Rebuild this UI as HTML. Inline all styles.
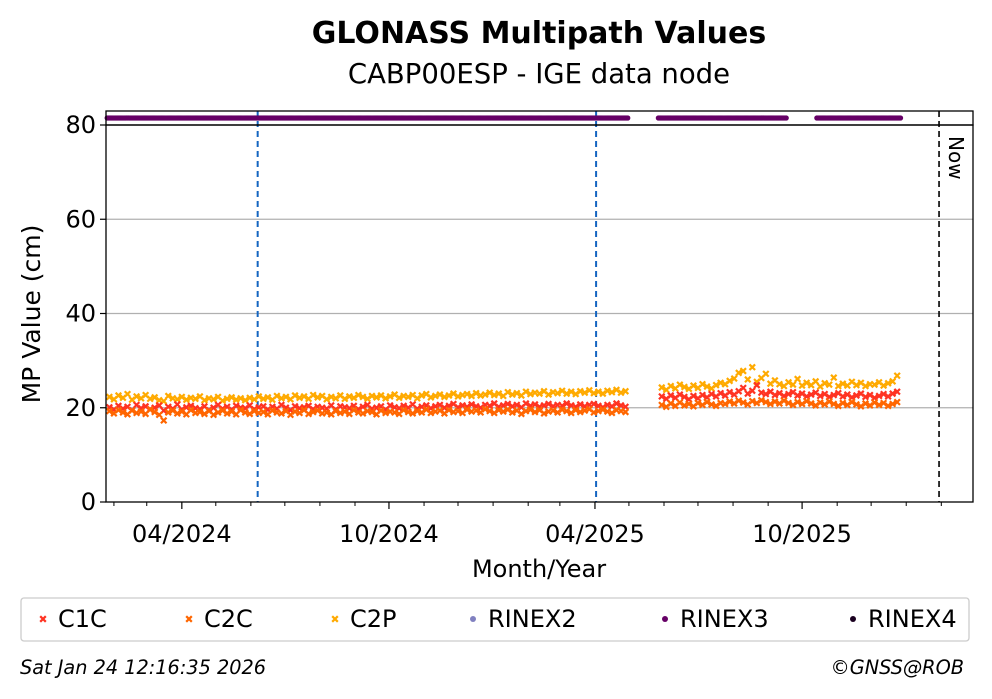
<!DOCTYPE html>
<html><head><meta charset="utf-8">
<style>
body{margin:0;background:#fff;}
svg{display:block;font-family:"DejaVu Sans","Liberation Sans",sans-serif;}
</style></head>
<body>
<svg id="chart" width="992" height="699" viewBox="0 0 992 699">
<text x="539" y="43" text-anchor="middle" font-size="30" font-weight="bold">GLONASS Multipath Values</text>
<text x="539" y="83" text-anchor="middle" font-size="27.5">CABP00ESP - IGE data node</text>
<g id="grid"></g>
<g id="marks"></g>
<rect x="106" y="111" width="867" height="14" fill="none" stroke="#000" stroke-width="1.3"/>
<rect x="106" y="125" width="867" height="377" fill="none" stroke="#000" stroke-width="1.3"/>
<g id="axes"></g>
<text transform="translate(40,314) rotate(-90)" text-anchor="middle" font-size="25">MP Value (cm)</text>
<text x="539" y="577" text-anchor="middle" font-size="24">Month/Year</text>
<text transform="translate(949,136) rotate(90)" font-size="20">Now</text>
<g>
<rect x="21" y="598" width="948" height="43" rx="3" fill="#fff" stroke="#ccc" stroke-width="1.3"/>
<g id="legend"></g>
</g>
<text x="20" y="674" font-size="19.3" font-style="italic">Sat Jan 24 12:16:35 2026</text>
<text x="964" y="674" text-anchor="end" font-size="19.3" font-style="italic">©GNSS@ROB</text>
</svg>
<script>
// days relative to 2024-04-01
const p1Start=-64, p1End=392, p2Start=424, p2End=632, step=4;
const c1cP1=[20.1,19.6,20.4,19.8,20.2,19.5,20.6,19.9,20.3,19.7,20.0,20.5,19.4,20.2,19.8,20.7,19.6,20.1,20.4,19.9,
19.7,20.3,19.5,20.0,20.6,19.8,20.2,19.6,20.4,20.0,19.9,20.5,19.7,20.1,20.3,19.6,20.2,19.8,20.6,20.0,
19.5,20.3,19.9,20.1,20.4,19.7,20.2,20.0,19.8,20.5,19.6,20.3,20.1,19.9,20.4,19.7,20.2,20.6,19.8,20.0,
20.3,19.6,20.5,20.1,19.9,20.4,20.0,20.7,19.8,20.2,20.5,19.9,20.3,20.6,20.0,20.4,20.8,20.1,20.5,20.2,
20.7,20.3,20.0,20.6,20.4,20.9,20.2,20.5,20.8,20.3,20.6,20.1,20.9,20.4,20.7,20.2,20.5,20.8,20.3,20.6,
20.4,20.9,20.5,20.2,20.7,20.3,20.6,20.8,20.4,20.1,20.6,20.3,20.9,20.5,20.2];
const c2cP1=[19.3,18.8,19.5,19.0,18.6,19.4,18.9,19.2,18.7,19.6,19.1,18.5,17.3,19.0,19.4,18.8,19.2,18.6,19.5,18.9,
19.1,18.7,19.3,18.5,19.0,19.4,18.8,19.2,18.6,19.5,19.0,18.7,19.3,18.9,19.1,18.6,19.4,19.0,18.8,19.3,
18.5,19.2,18.9,19.5,18.7,19.1,19.4,18.8,19.0,18.6,19.3,18.9,19.2,18.7,19.5,19.0,18.8,19.3,19.1,18.6,
19.4,18.9,19.2,19.0,18.7,19.5,19.1,18.8,19.3,19.0,19.6,18.9,19.2,19.4,18.8,19.5,19.1,19.3,18.9,19.6,
19.2,19.4,19.0,19.7,19.3,18.9,19.5,19.2,19.6,19.0,19.4,18.7,19.3,19.6,19.1,19.5,18.8,19.2,19.4,19.0,
19.6,19.3,18.9,19.5,19.1,19.4,19.7,19.0,19.3,19.6,19.2,18.9,19.5,19.3,19.1];
const c2pP1=[22.3,21.8,22.6,22.1,22.9,21.7,22.4,22.0,22.7,21.9,22.2,21.6,21.4,22.5,22.0,21.8,22.3,21.7,22.1,21.9,
22.4,21.6,22.0,21.8,22.3,21.5,21.9,22.2,21.7,22.0,21.6,22.1,21.8,22.4,21.9,22.2,21.7,22.5,22.0,22.3,
21.8,22.6,22.1,22.4,21.9,22.7,22.2,22.5,21.8,22.3,22.0,22.6,21.9,22.4,22.1,22.7,22.3,21.9,22.5,22.2,
22.6,22.0,22.4,22.8,22.1,22.5,22.3,22.7,22.0,22.6,22.9,22.2,22.5,22.8,22.3,22.6,23.0,22.4,22.7,22.9,
22.5,23.1,22.6,22.8,23.2,22.7,23.0,22.5,23.3,22.8,23.1,22.6,23.4,22.9,23.2,23.0,23.5,22.8,23.3,23.1,
23.6,23.0,23.4,22.9,23.5,23.2,23.7,23.1,23.4,23.0,23.6,23.3,23.8,23.2,23.5];
const c1cP2=[22.4,21.9,22.6,22.1,22.8,22.3,21.8,22.5,22.0,22.7,22.2,22.9,22.4,23.1,22.6,23.3,22.8,23.5,24.2,23.0,23.6,24.8,23.2,22.9,23.4,22.7,23.1,22.5,22.9,23.3,22.6,23.0,22.4,22.8,23.2,22.5,22.9,22.3,22.7,23.1,22.4,22.8,22.2,22.6,23.0,22.3,22.7,22.1,22.5,22.9,22.4,23.0,23.4];
const c2cP2=[20.6,20.2,20.9,20.4,21.1,20.5,20.8,20.3,21.0,20.6,21.2,20.7,20.4,21.0,20.8,21.3,20.9,21.5,21.1,20.7,21.4,21.0,21.6,21.2,20.8,21.3,20.9,21.5,21.0,20.6,21.2,20.8,21.4,20.9,20.5,21.1,20.7,21.3,20.8,20.4,21.0,20.6,21.2,20.7,20.3,20.9,20.5,21.1,20.6,21.0,20.4,20.8,21.2];
const c2pP2=[24.3,23.8,24.6,24.1,24.9,24.4,24.0,24.7,24.2,25.0,24.5,24.1,24.8,25.3,25.0,25.7,26.2,27.4,27.8,26.0,28.6,25.5,26.3,27.2,25.1,25.8,25.0,24.6,25.4,24.9,26.1,24.7,25.3,24.8,25.6,24.5,25.2,24.9,26.4,24.6,25.1,24.7,25.5,24.8,25.3,24.6,25.0,24.9,25.4,24.7,25.2,25.6,26.8];
const rinex3Ranges=[[-66,394],[421,534],[561,635]];
const yTicks=[0,20,40,60,80];
const xTickDays=[0,183,365,548];
const xTickLabels=["04/2024","10/2024","04/2025","10/2025"];
const minorTickDays=[-60,-31,30,61,91,122,153,214,244,275,306,334,395,426,456,487,518,579,609,640,671];
const eventDays=[67,366];
const nowDay=669;

const NS="http://www.w3.org/2000/svg";
const X0=106,X1=973,D0=-67,D1=699,Y0=502,Y1=125,V0=0,V1=80;
function xs(d){return X0+(d-D0)/(D1-D0)*(X1-X0);}
function ys(v){return Y0-(v-V0)/(V1-V0)*(Y0-Y1);}
function mk(tag,attrs,parent){const e=document.createElementNS(NS,tag);for(const k in attrs)e.setAttribute(k,attrs[k]);parent.appendChild(e);return e;}
const grid=document.getElementById('grid'),marks=document.getElementById('marks'),axes=document.getElementById('axes'),legend=document.getElementById('legend');

yTicks.forEach(v=>{
  if(v>0&&v<80){const g=mk('line',{x1:X0,x2:X1,y1:ys(v),y2:ys(v),stroke:'#b0b0b0','stroke-width':1.2},grid);
  
  }
  const t=mk('line',{x1:X0-6,x2:X0,y1:ys(v),y2:ys(v),stroke:'#000','stroke-width':1.2},axes);
  
  
  const l=mk('text',{x:X0-10,y:ys(v)+8,'text-anchor':'end','font-size':24},axes);
  
  
  l.textContent=v;
});
xTickDays.forEach((d,i)=>{
  const t=mk('line',{x1:xs(d),x2:xs(d),y1:Y0,y2:Y0+7,stroke:'#000','stroke-width':1.2},axes);
  
  
  const l=mk('text',{x:xs(d),y:Y0+40,'text-anchor':'middle','font-size':24},axes);
  
  
  l.textContent=xTickLabels[i];
});
minorTickDays.forEach(d=>{
  const t=mk('line',{x1:xs(d),x2:xs(d),y1:Y0,y2:Y0+4,stroke:'#000','stroke-width':1},axes);
  
  
});
eventDays.forEach(d=>{
  const e=mk('line',{x1:xs(d),x2:xs(d),y1:111,y2:Y0,stroke:'#1565c0','stroke-width':2,'stroke-dasharray':'6,4'},grid);
  
  
});
const nl=mk('line',{x1:xs(nowDay),x2:xs(nowDay),y1:111,y2:Y0,stroke:'#000','stroke-width':1.6,'stroke-dasharray':'6,4'},grid);



rinex3Ranges.forEach(r=>{
  for(let d=r[0];d<=r[1];d+=1){
    const c=mk('circle',{cx:xs(d),cy:118,r:2.6,fill:'#660066'},marks);
    
    
  }
});
function cross(x,y,color,parent){
  const s=2.8;
  const p=mk('path',{d:`M${x-s},${y-s}L${x+s},${y+s}M${x-s},${y+s}L${x+s},${y-s}`,stroke:color,'stroke-width':2.2,fill:'none'},parent);
  return p;
}
function drawSeries(vals,start,color,name){
  vals.forEach((v,i)=>{
    const p=cross(xs(start+i*step),ys(v),color,marks);
    
    
  });
}
drawSeries(c2pP1,p1Start,'#ffaa00','c2p');drawSeries(c2pP2,p2Start,'#ffaa00','c2p');
drawSeries(c1cP1,p1Start,'#ff3322','c1c');drawSeries(c1cP2,p2Start,'#ff3322','c1c');
drawSeries(c2cP1,p1Start,'#ff6600','c2c');drawSeries(c2cP2,p2Start,'#ff6600','c2c');

const legItems=[['C1C','#ff3322','x',43],['C2C','#ff6600','x',189],['C2P','#ffaa00','x',335],['RINEX2','#8080c0','o',473],['RINEX3','#660066','o',665],['RINEX4','#1a0020','o',853]];
legItems.forEach(it=>{
  const g=mk('g',{},legend);
  
  
  if(it[2]==='x'){cross(it[3],619,it[1],g);}else{mk('circle',{cx:it[3],cy:619,r:3,fill:it[1]},g);}
  const t=mk('text',{x:it[3]+15,y:627,'font-size':24},g);
  t.textContent=it[0];
});
</script>
</body></html>
